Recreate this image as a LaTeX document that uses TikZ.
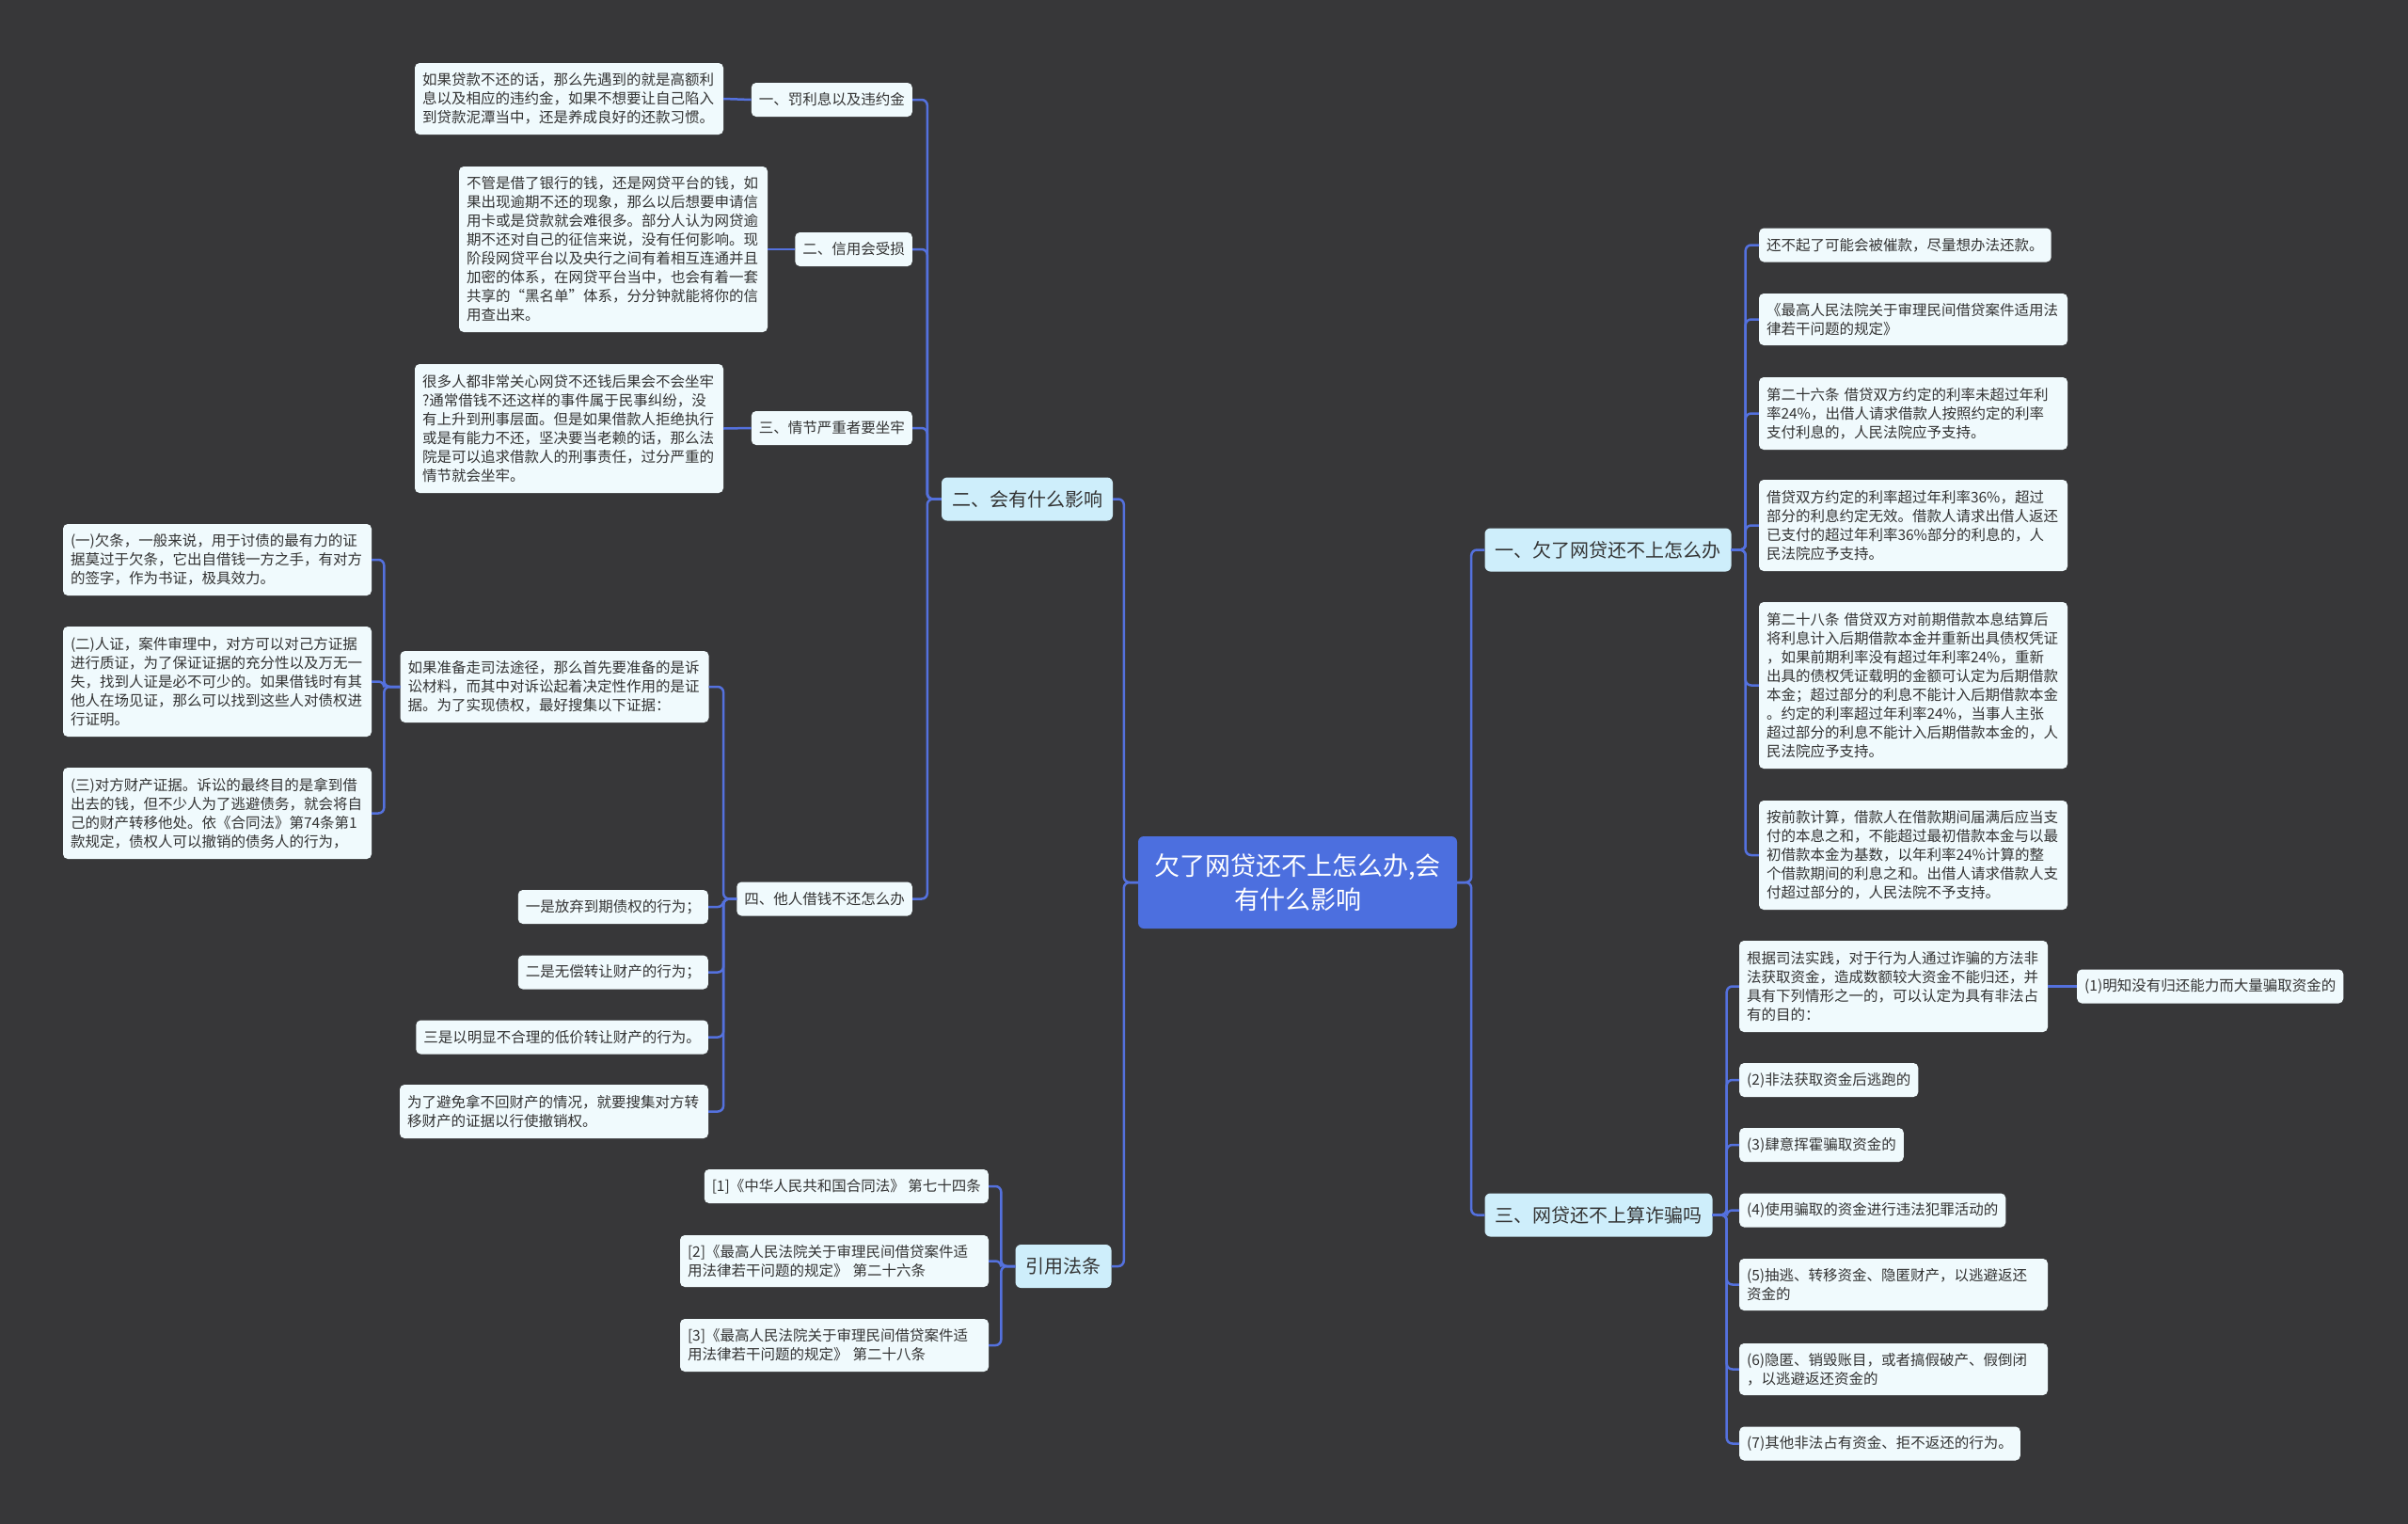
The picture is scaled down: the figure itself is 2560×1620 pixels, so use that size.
\documentclass[tikz,border=0pt]{standalone}
\usepackage{fontspec}
\setmainfont{Noto Sans CJK SC}
\usepackage{tikz}
\definecolor{bgcol}{RGB}{55,55,57}
\definecolor{rootblue}{RGB}{76,111,223}
\definecolor{topicfill}{RGB}{206,238,251}
\definecolor{leaffill}{RGB}{240,250,253}
\definecolor{inkgray}{RGB}{51,51,51}
\definecolor{linkblue}{RGB}{84,113,222}
\tikzset{
    root/.style={rounded corners=6pt, fill=rootblue, text=white, font=\fontsize{27}{36}\selectfont, align=center, inner sep=0pt, minimum width=339pt, minimum height=98pt},
    topic/.style={rounded corners=6pt, fill=topicfill, text=inkgray, font=\fontsize{20}{26}\selectfont, inner xsep=11pt, inner ysep=0pt, minimum height=46pt},
    leaf/.style={rounded corners=5pt, fill=leaffill, text=inkgray, font=\fontsize{15.5}{20}\selectfont, inner xsep=8pt, inner ysep=0pt, minimum height=36pt},
    note/.style={leaf, align=left, text width=312pt},
    link/.style={draw=linkblue, line width=2.5pt, rounded corners=6pt}
}

\begin{document}
\begin{tikzpicture}[x=1pt, y=-1pt]
    \fill[bgcol] (0,0) rectangle (2560,1620);
    \useasboundingbox (0,0) rectangle (2560,1620);

    % Centro
    \node[root] (root) at (1379.5,938) {欠了网贷还不上怎么办,会\\有什么影响};

    % Ramas principales
    \node[topic] (m2) at (1092,530.5) {二、会有什么影响};
    \node[topic] (mref) at (1130.5,1346) {引用法条};
    \node[topic] (m1) at (1709.5,584.5) {一、欠了网贷还不上怎么办};
    \node[topic] (m3) at (1699.5,1291.5) {三、网贷还不上算诈骗吗};

    % Izquierda: 二、会有什么影响
    \node[leaf, anchor=east] (b1) at (970,106) {一、罚利息以及违约金};
    \node[leaf, anchor=east] (b2) at (970,265) {二、信用会受损};
    \node[leaf, anchor=east] (b3) at (970,455) {三、情节严重者要坐牢};
    \node[leaf, anchor=east] (b4) at (970,955.5) {四、他人借钱不还怎么办};

    \node[note, minimum height=76pt] (a1) at (605,105) {如果贷款不还的话，那么先遇到的就是高额利\\息以及相应的违约金，如果不想要让自己陷入\\到贷款泥潭当中，还是养成良好的还款习惯。};
    \node[note, minimum height=176pt] (a2) at (652,265) {不管是借了银行的钱，还是网贷平台的钱，如\\果出现逾期不还的现象，那么以后想要申请信\\用卡或是贷款就会难很多。部分人认为网贷逾\\期不还对自己的征信来说，没有任何影响。现\\阶段网贷平台以及央行之间有着相互连通并且\\加密的体系，在网贷平台当中，也会有着一套\\共享的“黑名单”体系，分分钟就能将你的信\\用查出来。};
    \node[note, minimum height=137pt] (a3) at (605,455.5) {很多人都非常关心网贷不还钱后果会不会坐牢\\?通常借钱不还这样的事件属于民事纠纷，没\\有上升到刑事层面。但是如果借款人拒绝执行\\或是有能力不还，坚决要当老赖的话，那么法\\院是可以追求借款人的刑事责任，过分严重的\\情节就会坐牢。};

    \node[note, minimum height=76pt] (c1) at (589.5,730) {如果准备走司法途径，那么首先要准备的是诉\\讼材料，而其中对诉讼起着决定性作用的是证\\据。为了实现债权，最好搜集以下证据：};
    \node[leaf, anchor=east] (c2) at (753,964) {一是放弃到期债权的行为；};
    \node[leaf, anchor=east] (c3) at (753,1033.5) {二是无偿转让财产的行为；};
    \node[leaf, anchor=east] (c4) at (753,1102.5) {三是以明显不合理的低价转让财产的行为。};
    \node[note, minimum height=57pt] (c5) at (589,1181.5) {为了避免拿不回财产的情况，就要搜集对方转\\移财产的证据以行使撤销权。};

    \node[note, minimum height=76pt] (d1) at (231,595) {(一)欠条，一般来说，用于讨债的最有力的证\\据莫过于欠条，它出自借钱一方之手，有对方\\的签字，作为书证，极具效力。};
    \node[note, minimum height=117pt] (d2) at (231,724.5) {(二)人证，案件审理中，对方可以对己方证据\\进行质证，为了保证证据的充分性以及万无一\\失，找到人证是必不可少的。如果借钱时有其\\他人在场见证，那么可以找到这些人对债权进\\行证明。};
    \node[note, minimum height=97pt] (d3) at (231,864.5) {(三)对方财产证据。诉讼的最终目的是拿到借\\出去的钱，但不少人为了逃避债务，就会将自\\己的财产转移他处。依《合同法》第74条第1\\款规定，债权人可以撤销的债务人的行为，};

    % Izquierda: 引用法条
    \node[leaf, anchor=east] (e1) at (1051,1261) {[1]《中华人民共和国合同法》 第七十四条};
    \node[note, minimum height=55pt] (e2) at (887,1340.5) {[2]《最高人民法院关于审理民间借贷案件适\\用法律若干问题的规定》 第二十六条};
    \node[note, minimum height=56pt] (e3) at (887,1430) {[3]《最高人民法院关于审理民间借贷案件适\\用法律若干问题的规定》 第二十八条};

    % Derecha: 一、欠了网贷还不上怎么办
    \node[leaf, anchor=west] (f1) at (1870,260.5) {还不起了可能会被催款，尽量想办法还款。};
    \node[note, minimum height=55pt] (f2) at (2034,339.5) {《最高人民法院关于审理民间借贷案件适用法\\律若干问题的规定》};
    \node[note, minimum height=77pt] (f3) at (2034,439.5) {第二十六条 借贷双方约定的利率未超过年利\\率24\%，出借人请求借款人按照约定的利率\\支付利息的，人民法院应予支持。};
    \node[note, minimum height=97pt] (f4) at (2034,558.5) {借贷双方约定的利率超过年利率36\%，超过\\部分的利息约定无效。借款人请求出借人返还\\已支付的超过年利率36\%部分的利息的，人\\民法院应予支持。};
    \node[note, minimum height=177pt] (f5) at (2034,728.5) {第二十八条 借贷双方对前期借款本息结算后\\将利息计入后期借款本金并重新出具债权凭证\\，如果前期利率没有超过年利率24\%，重新\\出具的债权凭证载明的金额可认定为后期借款\\本金；超过部分的利息不能计入后期借款本金\\。约定的利率超过年利率24\%，当事人主张\\超过部分的利息不能计入后期借款本金的，人\\民法院应予支持。};
    \node[note, minimum height=116pt] (f6) at (2034,909) {按前款计算，借款人在借款期间届满后应当支\\付的本息之和，不能超过最初借款本金与以最\\初借款本金为基数，以年利率24\%计算的整\\个借款期间的利息之和。出借人请求借款人支\\付超过部分的，人民法院不予支持。};

    % Derecha: 三、网贷还不上算诈骗吗
    \node[note, minimum height=97pt] (g1) at (2013,1048.5) {根据司法实践，对于行为人通过诈骗的方法非\\法获取资金，造成数额较大资金不能归还，并\\具有下列情形之一的，可以认定为具有非法占\\有的目的：};
    \node[leaf, anchor=west] (h1) at (2208,1048.5) {(1)明知没有归还能力而大量骗取资金的};
    \node[leaf, anchor=west] (g2) at (1849,1148) {(2)非法获取资金后逃跑的};
    \node[leaf, anchor=west] (g3) at (1849,1217) {(3)肆意挥霍骗取资金的};
    \node[leaf, anchor=west] (g4) at (1849,1286.5) {(4)使用骗取的资金进行违法犯罪活动的};
    \node[note, minimum height=55pt] (g5) at (2013,1365.5) {(5)抽逃、转移资金、隐匿财产，以逃避返还\\资金的};
    \node[note, minimum height=55pt] (g6) at (2013,1455.5) {(6)隐匿、销毁账目，或者搞假破产、假倒闭\\，以逃避返还资金的};
    \node[leaf, anchor=west] (g7) at (1849,1534.5) {(7)其他非法占有资金、拒不返还的行为。};

    % Conexiones
    \foreach \k in {m2,mref} \draw[link] (root.west) -- ++(-15,0) |- (\k.east);
    \foreach \k in {m1,m3} \draw[link] (root.east) -- ++(15,0) |- (\k.west);
    \foreach \k in {b1,b2,b3,b4} \draw[link] (m2.west) -- ++(-15,0) |- (\k.east);
    \draw[link] (b1.west) -- (a1.east);
    \draw[link] (b2.west) -- (a2.east);
    \draw[link] (b3.west) -- (a3.east);
    \foreach \k in {c1,c2,c3,c4,c5} \draw[link] (b4.west) -- ++(-14,0) |- (\k.east);
    \foreach \k in {d1,d2,d3} \draw[link] (c1.west) -- ++(-17,0) |- (\k.east);
    \foreach \k in {e1,e2,e3} \draw[link] (mref.west) -- ++(-15,0) |- (\k.east);
    \foreach \k in {f1,f2,f3,f4,f5,f6} \draw[link] (m1.east) -- ++(15,0) |- (\k.west);
    \foreach \k in {g1,g2,g3,g4,g5,g6,g7} \draw[link] (m3.east) -- ++(15,0) |- (\k.west);
    \draw[link] (g1.east) -- (h1.west);
\end{tikzpicture}
\end{document}
